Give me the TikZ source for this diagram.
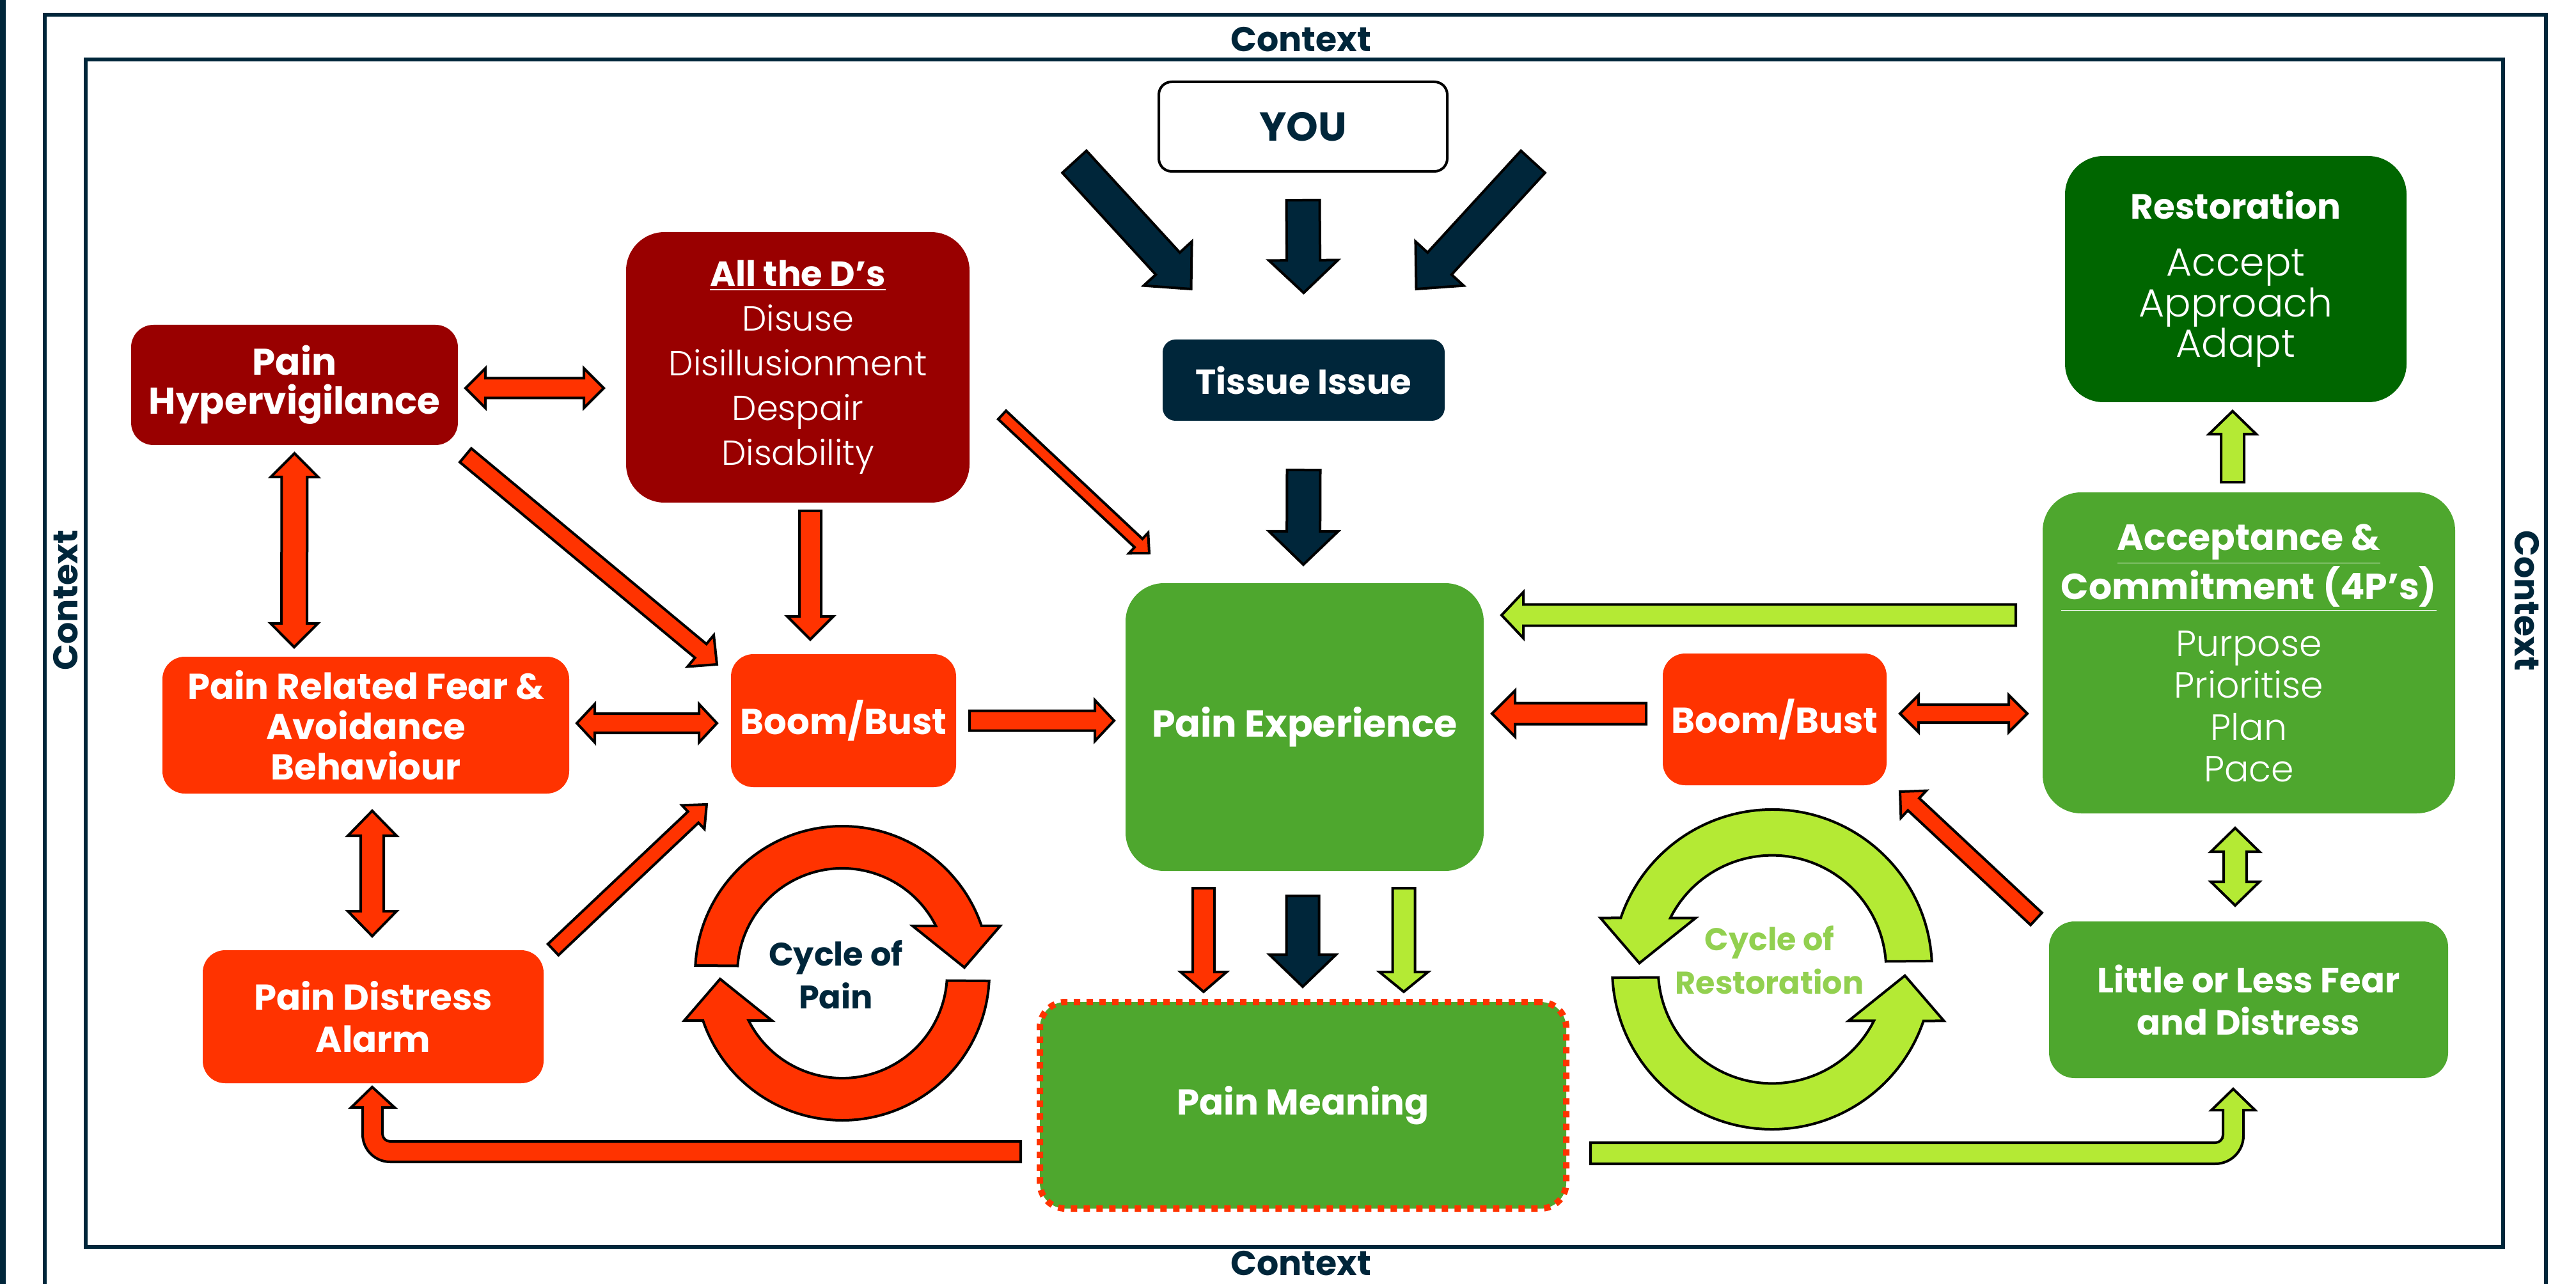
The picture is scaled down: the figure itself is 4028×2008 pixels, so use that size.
\documentclass[tikz,border=0pt]{standalone}
\usepackage{fontspec}
\setmainfont{Poppins}
\IfFontExistsTF{Poppins Light}{\newfontfamily\thinfont{Poppins Light}}{\newcommand{\thinfont}{\mdseries}}
\usetikzlibrary{calc}

\definecolor{ctxnavy}{HTML}{00263A}
\definecolor{deepred}{HTML}{990000}
\definecolor{painred}{HTML}{FF3300}
\definecolor{leafgreen}{HTML}{4EA72E}
\definecolor{deepgreen}{HTML}{006600}
\definecolor{freshlime}{HTML}{B4EA34}
\definecolor{cycletext}{HTML}{92D050}

% block arrow: tail, tip, half shaft, half head, head length (in px), fill
\newcommand{\blockarr}[6]{%
  \coordinate (bt) at (#1);
  \coordinate (bp) at (#2);
  \pgfmathsetlengthmacro{\arrW}{#3*0.1mm}%
  \pgfmathsetlengthmacro{\arrH}{#4*0.1mm}%
  \pgfmathsetlengthmacro{\arrL}{#5*0.1mm}%
  \coordinate (bb) at ($(bp)!\arrL!(bt)$);
  \draw[arr,fill=#6] ($(bt)!\arrW!90:(bp)$) -- ($(bb)!\arrW!90:(bp)$) -- ($(bb)!\arrH!90:(bp)$) -- (bp)
    -- ($(bb)!\arrH!-90:(bp)$) -- ($(bb)!\arrW!-90:(bp)$) -- ($(bt)!\arrW!-90:(bp)$) -- cycle;
}
% double block arrow: end, end, half shaft, half head, head length (in px), fill
\newcommand{\dblarr}[6]{%
  \coordinate (da) at (#1);
  \coordinate (db) at (#2);
  \pgfmathsetlengthmacro{\arrW}{#3*0.1mm}%
  \pgfmathsetlengthmacro{\arrH}{#4*0.1mm}%
  \pgfmathsetlengthmacro{\arrL}{#5*0.1mm}%
  \coordinate (dA) at ($(da)!\arrL!(db)$);
  \coordinate (dB) at ($(db)!\arrL!(da)$);
  \draw[arr,fill=#6] (da) -- ($(dA)!\arrH!90:(db)$) -- ($(dA)!\arrW!90:(db)$) -- ($(dB)!\arrW!-90:(da)$)
    -- ($(dB)!\arrH!-90:(da)$) -- (db) -- ($(dB)!\arrH!90:(da)$) -- ($(dB)!\arrW!90:(da)$)
    -- ($(dA)!\arrW!-90:(db)$) -- ($(dA)!\arrH!-90:(db)$) -- cycle;
}
% one half of a cycle ring, centred on the origin
\newcommand{\cyclehalf}{(177:230) arc[start angle=177,end angle=18.8,radius=230] -- (247,74) -- (191,9)
  -- (110,74) -- (146.4,74) arc[start angle=26.8,end angle=176,radius=164] -- cycle}

\begin{document}
\begin{tikzpicture}[x=0.1mm,y=0.1mm,
  pbox/.style={rounded corners=3.5mm,inner sep=0pt,outer sep=0pt,text=white,align=center,
    font=\fontsize{16}{18}\selectfont\bfseries},
  arr/.style={draw=black,line width=0.4mm},
  ctxframe/.style={draw=ctxnavy,line width=0.6mm},
  ctx/.style={text=ctxnavy,inner sep=1pt,font=\fontsize{15.3}{18}\selectfont\bfseries}]
\useasboundingbox (0,0) rectangle (4028,-2008);

% frames
\fill[ctxnavy] (0,0) rectangle (9,-2008);
\draw[ctxframe] (70,-2008) -- (70,-23) -- (3981,-23) -- (3981,-2008);
\draw[ctxframe] (134,-93) rectangle (3914,-1950);
\node[ctx] (ctxTop) at (2034,-62) {Context};
\node[ctx] (ctxBot) at (2034,-1976) {Context};
\node[ctx,rotate=90] (ctxLeft) at (103,-939) {Context};
\node[ctx,rotate=-90] (ctxRight) at (3951,-939) {Context};

% boxes
\node[pbox,fill=white,draw=black,line width=0.4mm,text=ctxnavy,rounded corners=2mm,minimum width=45.1mm,minimum height=14mm,font=\fontsize{18}{20}\selectfont\bfseries] (you) at (2037.5,-198) {YOU};
\node[pbox,fill=ctxnavy,rounded corners=2mm,minimum width=44.1mm,minimum height=12.7mm,font=\fontsize{15.5}{18}\selectfont\bfseries] (tissue) at (2038.5,-594.5) {Tissue Issue};
\node[pbox,fill=deepred,minimum width=51.1mm,minimum height=18.8mm,font=\fontsize{16.5}{17.4}\selectfont\bfseries] (hyper) at (460.5,-602) {Pain\\Hypervigilance};
\node[pbox,fill=deepred,rounded corners=6mm,minimum width=53.7mm,minimum height=42.3mm,font=\fontsize{15.5}{19.9}\selectfont\thinfont] (dees) at (1247.5,-574.5) {{\normalfont\bfseries\underline{All the D’s}}\\Disuse\\Disillusionment\\Despair\\Disability};
\node[pbox,fill=painred,minimum width=63.6mm,minimum height=21.4mm,font=\fontsize{16}{17.9}\selectfont\bfseries] (fear) at (572,-1134) {Pain Related Fear \&\\Avoidance\\Behaviour};
\node[pbox,fill=painred,minimum width=35.2mm,minimum height=20.8mm] (boomL) at (1319,-1127) {Boom/Bust};
\node[pbox,fill=painred,minimum width=53.3mm,minimum height=20.8mm,font=\fontsize{16}{18.8}\selectfont\bfseries] (distress) at (583.5,-1590) {Pain Distress\\Alarm};
\node[pbox,fill=leafgreen,rounded corners=6mm,minimum width=56mm,minimum height=45mm,font=\fontsize{16.7}{18}\selectfont\bfseries] (exper) at (2040,-1137) {Pain Experience};
\node[pbox,fill=leafgreen,rounded corners=4mm,draw=painred,line width=1mm,dash pattern=on 1mm off 1mm,minimum width=82.3mm,minimum height=32.3mm] (meaning) at (2037.5,-1728.5) {Pain Meaning};
\node[pbox,fill=painred,minimum width=35mm,minimum height=20.6mm] (boomR) at (2775,-1125) {Boom/Bust};
\node[pbox,fill=deepgreen,rounded corners=6mm,minimum width=53.4mm,minimum height=38.5mm,font=\fontsize{17.5}{18.2}\selectfont\thinfont] (resto) at (3496,-436.5) {{\normalfont\fontsize{15.6}{18}\selectfont\bfseries Restoration}\\[2.5mm]Accept\\Approach\\Adapt};
\node[pbox,fill=leafgreen,rounded corners=6mm,minimum width=64.5mm,minimum height=50.2mm,font=\fontsize{16.2}{18.5}\selectfont\thinfont] (accept) at (3516.5,-1021) {{\normalfont\bfseries\underline{Acceptance \&}}\\{\normalfont\bfseries\underline{Commitment (4P’s)}}\\[2.4mm]Purpose\\Prioritise\\Plan\\Pace};
\node[pbox,fill=leafgreen,rounded corners=4mm,minimum width=62.4mm,minimum height=24.5mm,font=\fontsize{15.5}{18.8}\selectfont\bfseries] (little) at (3516,-1563.5) {Little or Less Fear\\and Distress};

% arrows from you
\blockarr{$(you.west)+(-132,-55)$}{$(tissue.north)+(-176,79)$}{25.5}{51}{54}{ctxnavy}
\blockarr{$(you.south)+(0,-45)$}{$(tissue.north)+(0,73)$}{26}{54}{51}{ctxnavy}
\blockarr{$(you.east)+(134,-55)$}{$(tissue.north)+(176,79)$}{25.5}{51}{54}{ctxnavy}
\blockarr{$(tissue.south)+(0,-77)$}{$(exper.north)+(-2,29)$}{26}{54}{52}{ctxnavy}

% cycle of pain side
\dblarr{$(hyper.east)+(12,-5)$}{$(dees.west)+(-35,-32.5)$}{15.5}{31}{31}{painred}
\dblarr{$(hyper.south)+(0,-13)$}{$(fear.north)+(-112,15)$}{20}{37}{37}{painred}
\dblarr{$(fear.east)+(12,3)$}{$(boomL.west)+(-22,-4)$}{15}{30}{28}{painred}
\dblarr{$(fear.south)+(10,-27)$}{$(distress.north)+(-1.5,22)$}{18}{38}{39}{painred}
\blockarr{$(dees.south)+(19.5,-13)$}{$(boomL.north)+(-52,23)$}{17}{36}{36}{painred}
\blockarr{$(hyper.south east)+(12,-16)$}{$(boomL.north west)+(-22,-16)$}{14}{32}{33}{painred}
\blockarr{$(dees.east)+(51,-74.5)$}{$(exper.north west)+(37,47)$}{9}{22}{23}{painred}
\blockarr{$(distress.north east)+(15,1)$}{$(boomL.south west)+(-38,-27)$}{12}{25.5}{29}{painred}
\blockarr{$(boomL.east)+(21,0)$}{$(exper.west)+(-18,10)$}{15.5}{32}{30}{painred}

% experience to meaning
\blockarr{$(exper.south)+(-158,-27)$}{$(meaning.north)+(-155.5,16)$}{17}{36}{31}{painred}
\blockarr{$(exper.south)+(-3,-39)$}{$(meaning.north)+(-0.5,24)$}{25.5}{52}{50}{ctxnavy}
\blockarr{$(exper.south)+(155,-27)$}{$(meaning.north)+(157.5,16)$}{17.5}{38}{31}{freshlime}

% meaning back round the bottom
\draw[arr,fill=painred] ($(meaning.west)+(-30,-56.5)$) -- ++(-986,0) arc[start angle=270,end angle=180,radius=12]
  -- ++(0,41) -- ++(19,0) -- ($(distress.south)+(-1.5,-6)$) -- ++(-33,-32) -- ++(18,0) -- ++(0,-42)
  arc[start angle=180,end angle=270,radius=43] -- ++(986,0) -- cycle;
\draw[arr,fill=freshlime] ($(meaning.east)+(38,-58.5)$) -- ++(977,0) arc[start angle=270,end angle=360,radius=12]
  -- ++(0,39) -- ++(-18,0) -- ($(little.south)+(-24,-17)$) -- ++(34,-33) -- ++(-18,0) -- ++(0,-40)
  arc[start angle=0,end angle=-90,radius=44] -- ++(-977,0) -- cycle;

% restoration side
\blockarr{$(accept.west)+(-42,59)$}{$(exper.east)+(28,175)$}{16.5}{36}{34}{freshlime}
\blockarr{$(boomR.west)+(-26,9)$}{$(exper.east)+(13,21)$}{16.5}{36}{36}{painred}
\dblarr{$(boomR.east)+(21,9)$}{$(accept.west)+(-24,-95)$}{14}{29}{29}{painred}
\blockarr{$(little.north west)+(-20,4)$}{$(boomR.south east)+(21,-10)$}{13}{29}{29}{painred}
\dblarr{$(accept.south)+(-21.5,-23)$}{$(little.north)+(-21,25)$}{18}{38}{37}{freshlime}
\blockarr{$(accept.north)+(-25.5,16)$}{$(resto.south)+(-5,-14)$}{18}{37}{36}{freshlime}

% cycles
\coordinate (painRing) at (1317,-1522);
\coordinate (restoRing) at (2771,-1516);
\begin{scope}[shift={(painRing)}]
  \draw[arr,fill=painred] \cyclehalf;
  \draw[arr,fill=painred,rotate=180] \cyclehalf;
\end{scope}
\begin{scope}[shift={(restoRing)},xscale=-1.087,yscale=1.087]
  \draw[arr,fill=freshlime] \cyclehalf;
  \draw[arr,fill=freshlime,rotate=180] \cyclehalf;
\end{scope}
\node[text=ctxnavy,align=center,font=\fontsize{14.5}{19}\selectfont\bfseries] (painCycle) at ($(painRing)+(-10,-2)$) {Cycle of\\Pain};
\node[text=cycletext,align=center,font=\fontsize{14}{19.3}\selectfont\bfseries] (restoCycle) at ($(restoRing)+(-4,15)$) {Cycle of\\Restoration};
\end{tikzpicture}
\end{document}
